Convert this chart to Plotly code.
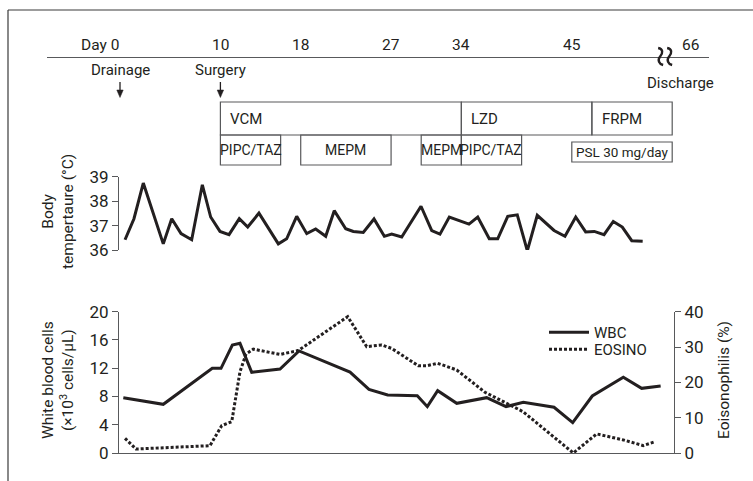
import plotly.graph_objects as go

# ---------------- data ----------------
# Body temperature (day, °C)
temp_day = [0.50, 1.39, 2.32, 4.31, 5.15, 6.08, 7.14, 8.20, 9.03, 9.96, 10.86, 11.88, 12.72,
            13.84, 15.77, 16.60, 17.60, 18.60, 19.49, 20.49, 21.34, 22.48, 23.24, 24.23, 25.30,
            26.33, 27.06, 28.06, 29.98, 31.05, 31.87, 32.80, 34.76, 35.63, 36.78, 37.62, 38.62,
            39.57, 40.57, 41.56, 43.23, 44.32, 45.39, 46.38, 47.24, 48.21, 49.13, 50.03, 50.97, 52.06]
temp_val = [36.42, 37.28, 38.74, 36.25, 37.28, 36.67, 36.42, 38.67, 37.35, 36.76, 36.63, 37.28, 36.94,
            37.51, 36.25, 36.46, 37.38, 36.67, 36.86, 36.56, 37.61, 36.87, 36.76, 36.72, 37.27,
            36.56, 36.65, 36.53, 37.79, 36.79, 36.65, 37.35, 37.06, 37.35, 36.46, 36.46, 37.38,
            37.44, 35.97, 37.42, 36.80, 36.56, 37.35, 36.74, 36.76, 36.63, 37.17, 36.94, 36.38, 36.36]

# White blood cells (x10^3 cells/uL)
wbc_day = [0.33, 4.31, 9.19, 10.06, 11.19, 11.95, 13.12, 15.94, 17.83, 22.91, 24.80, 26.66,
           29.61, 30.61, 31.64, 33.54, 36.52, 38.45, 40.17, 43.23, 45.09, 47.04, 50.13, 51.96, 53.85]
wbc_val = [7.83, 6.89, 11.99, 11.99, 15.29, 15.52, 11.42, 11.89, 14.44, 11.45, 9.01, 8.21,
           8.11, 6.56, 8.82, 7.03, 7.83, 6.56, 7.17, 6.47, 4.29, 8.07, 10.71, 9.15, 9.48]

# Eosinophils (%)
eos_day = [0.50, 1.59, 8.96, 10.13, 11.13, 11.95, 12.55, 13.28, 15.94, 17.76, 22.68, 24.57, 26.07,
           27.06, 29.71, 30.55, 31.64, 33.54, 36.35, 40.14, 45.15, 47.48, 50.13, 52.12, 53.29]
eos_val = [4.15, 1.13, 2.07, 7.74, 8.87, 23.0, 28.0, 29.4, 27.9, 29.0, 38.6, 30.1, 30.6,
           29.6, 24.7, 24.7, 25.4, 23.5, 17.2, 11.7, 0.0, 5.4, 3.7, 2.1, 3.2]

# Timeline labels (position on the compressed day axis; 66 sits after the axis break)
tl_labels = ["Day 0", "10", "18", "27", "34", "45", "66"]
tl_pos = [0, 10, 18, 27, 34, 45, 56.8]
break_pos = 53.8
discharge_pos = 55.8

# Events
event_labels = ["Drainage", "Surgery"]
event_day = [0, 10]

# Treatments: name, start day, end day, row
drug_names = ["VCM", "LZD", "FRPM", "PIPC/TAZ", "MEPM", "MEPM", "PIPC/TAZ", "PSL 30 mg/day"]
drug_start = [10, 34, 47, 10, 18, 30, 34, 45]
drug_end = [34, 47, 55, 16, 27, 34, 40, 55]
drug_row = [1, 1, 1, 2, 2, 2, 2, 3]

# ---------------- layout helpers ----------------
W, H = 753, 481
def fx(px):
    return px / W
def fy(py):
    return 1 - py / H

FONT = "Roboto, Liberation Sans, sans-serif"
TXT = "#231f20"
AX = "#58595b"
DAY0_PX, PX_PER_DAY = 120.0, 10.04
def px2day(px):
    return (px - DAY0_PX) / PX_PER_DAY

fig = go.Figure()

# invisible anchor trace for the full-width timeline axis
fig.add_trace(go.Scatter(x=[tl_pos[0]], y=[0], mode="markers", xaxis="x", yaxis="y",
                         marker=dict(opacity=0), showlegend=False, hoverinfo="skip"))
fig.add_trace(go.Scatter(x=temp_day, y=temp_val, mode="lines", xaxis="x2", yaxis="y2",
                         line=dict(color=TXT, width=3), showlegend=False, cliponaxis=False))
fig.add_trace(go.Scatter(x=wbc_day, y=wbc_val, mode="lines", name="WBC", xaxis="x2", yaxis="y3",
                         line=dict(color=TXT, width=3), legend="legend"))
fig.add_trace(go.Scatter(x=eos_day, y=eos_val, mode="lines", name="EOSINO", xaxis="x2", yaxis="y4",
                         line=dict(color=TXT, width=3, dash="3px,2px"), cliponaxis=False,
                         legend="legend2"))

shapes = []
annotations = []

# frame (top and left)
shapes.append(dict(type="line", xref="paper", yref="paper", x0=fx(8), x1=fx(753), y0=fy(10), y1=fy(10),
                   line=dict(color="#3a3a3a", width=1.2)))
shapes.append(dict(type="line", xref="paper", yref="paper", x0=fx(8), x1=fx(8), y0=fy(10), y1=fy(481),
                   line=dict(color="#3a3a3a", width=1.2)))
# timeline line
shapes.append(dict(type="line", xref="paper", yref="paper", x0=fx(47), x1=fx(709), y0=fy(57.5), y1=fy(57.5),
                   line=dict(color=AX, width=1.2)))
# axis break symbol (two wavy strokes), positioned on the timeline axis
for k in (0, 1):
    c = break_pos + k * 9 / PX_PER_DAY
    pts = [(0, 48), (5, 49), (5, 53), (2, 56.5), (-1, 60), (1, 64), (5, 65)]
    coords = []
    for (dx, py) in pts:
        coords += [c + (dx - 2) / PX_PER_DAY, fy(py)]
    p = "M{},{} C{},{} {},{} {},{} C{},{} {},{} {},{}".format(*coords)
    shapes.append(dict(type="path", xref="x", yref="paper", path=p,
                       line=dict(color=TXT, width=2.4)))

# treatment boxes
row_y = {1: (102, 135), 2: (135, 165), 3: (142, 162)}
for name, s, e, r in zip(drug_names, drug_start, drug_end, drug_row):
    top, bot = row_y[r]
    shapes.append(dict(type="rect", xref="x", yref="paper", x0=s, x1=e, y0=fy(bot), y1=fy(top),
                       line=dict(color=AX, width=1.2), fillcolor="rgba(0,0,0,0)"))
    if r == 1:
        annotations.append(dict(x=s, y=fy((top + bot) / 2), xref="x", yref="paper", text=name,
                                showarrow=False, xanchor="left", yanchor="middle", xshift=8,
                                font=dict(size=15, family=FONT, color=TXT)))
    else:
        annotations.append(dict(x=(s + e) / 2, y=fy((top + bot) / 2), xref="x", yref="paper", text=name,
                                showarrow=False, xanchor="center", yanchor="middle",
                                font=dict(size=14 if r == 2 else 13.5, family=FONT, color=TXT)))

# timeline labels
for lab, pos in zip(tl_labels, tl_pos):
    if lab.startswith("Day"):
        annotations.append(dict(x=pos, y=fy(45), xref="x", yref="paper", text=lab, showarrow=False,
                                xanchor="right", yanchor="middle", xshift=1,
                                font=dict(size=15.5, family=FONT, color=TXT)))
    else:
        annotations.append(dict(x=pos, y=fy(45), xref="x", yref="paper", text=lab, showarrow=False,
                                xanchor="center", yanchor="middle",
                                font=dict(size=15.5, family=FONT, color=TXT)))
annotations.append(dict(x=discharge_pos, y=fy(83), xref="x", yref="paper", text="Discharge",
                        showarrow=False, xanchor="center", yanchor="middle",
                        font=dict(size=15, family=FONT, color=TXT)))

# events with arrows
for lab, d in zip(event_labels, event_day):
    annotations.append(dict(x=d, y=fy(70), xref="x", yref="paper", text=lab, showarrow=False,
                            xanchor="center", yanchor="middle",
                            font=dict(size=15, family=FONT, color=TXT)))
    shapes.append(dict(type="line", xref="x", yref="paper", x0=d, x1=d, y0=fy(82), y1=fy(92),
                       line=dict(color=TXT, width=1.3)))
    hw = 3.2 / PX_PER_DAY
    tri = "M{},{} L{},{} L{},{} Z".format(d - hw, fy(90), d + hw, fy(90), d, fy(97.5))
    shapes.append(dict(type="path", xref="x", yref="paper", path=tri,
                       fillcolor=TXT, line=dict(color=TXT, width=0.5)))

# axis titles
annotations.append(dict(x=fx(58), y=fy(212), xref="paper", yref="paper", text="Body<br>tempertaure (°C)",
                        textangle=-90, showarrow=False, xanchor="center", yanchor="middle",
                        font=dict(size=15.5, family=FONT, color=TXT)))
annotations.append(dict(x=fx(58), y=fy(380), xref="paper", yref="paper",
                        text="White blood cells<br>(×10<sup>3</sup> cells/μL)",
                        textangle=-90, showarrow=False, xanchor="center", yanchor="middle",
                        font=dict(size=15.5, family=FONT, color=TXT)))
annotations.append(dict(x=fx(724), y=fy(380), xref="paper", yref="paper", text="Eoisonophilis (%)",
                        textangle=-90, showarrow=False, xanchor="center", yanchor="middle",
                        font=dict(size=15.5, family=FONT, color=TXT)))

tickfont = dict(size=17, family=FONT, color=TXT)
common_y = dict(showline=True, linecolor=AX, linewidth=1.2, ticks="outside", ticklen=6, tickcolor=AX,
                tickwidth=1.2, tickfont=tickfont, showgrid=False, zeroline=False, automargin=False)
legend_common = dict(xanchor="left", yanchor="top", bgcolor="rgba(0,0,0,0)",
                     font=dict(size=15, family=FONT, color=TXT), itemwidth=40)
fig.update_layout(
    template="none",
    width=W, height=H, margin=dict(l=0, r=0, t=0, b=0, pad=0, autoexpand=False),
    paper_bgcolor="white", plot_bgcolor="rgba(0,0,0,0)",
    xaxis=dict(domain=[0, 1], range=[px2day(0), px2day(W)], anchor="y", visible=False,
               fixedrange=True, automargin=False),
    yaxis=dict(domain=[0, 1], range=[0, 1], anchor="x", visible=False, fixedrange=True, automargin=False),
    xaxis2=dict(domain=[fx(118), fx(674)], range=[px2day(118), px2day(674)], anchor="y3",
                showline=True, linecolor=AX, linewidth=1.2, ticks="", showticklabels=False,
                showgrid=False, zeroline=False, automargin=False),
    yaxis2=dict(domain=[fy(250), fy(176.7)], range=[36, 39], dtick=1, anchor="free", position=fx(118),
                **common_y),
    yaxis3=dict(domain=[fy(453), fy(311.7)], range=[0, 20], dtick=4, anchor="free", position=fx(118),
                **common_y),
    yaxis4=dict(domain=[fy(453), fy(311.7)], range=[0, 40], dtick=10, overlaying="y3", side="right",
                anchor="x2", **common_y),
    showlegend=True,
    legend=dict(x=fx(544), y=fy(316), **legend_common),
    legend2=dict(x=fx(544), y=fy(333), **legend_common),
    shapes=shapes, annotations=annotations,
)

fig.write_html("out.html", config={"displayModeBar": False},
               post_script="document.body.style.margin='0px';document.body.style.overflow='hidden';")
